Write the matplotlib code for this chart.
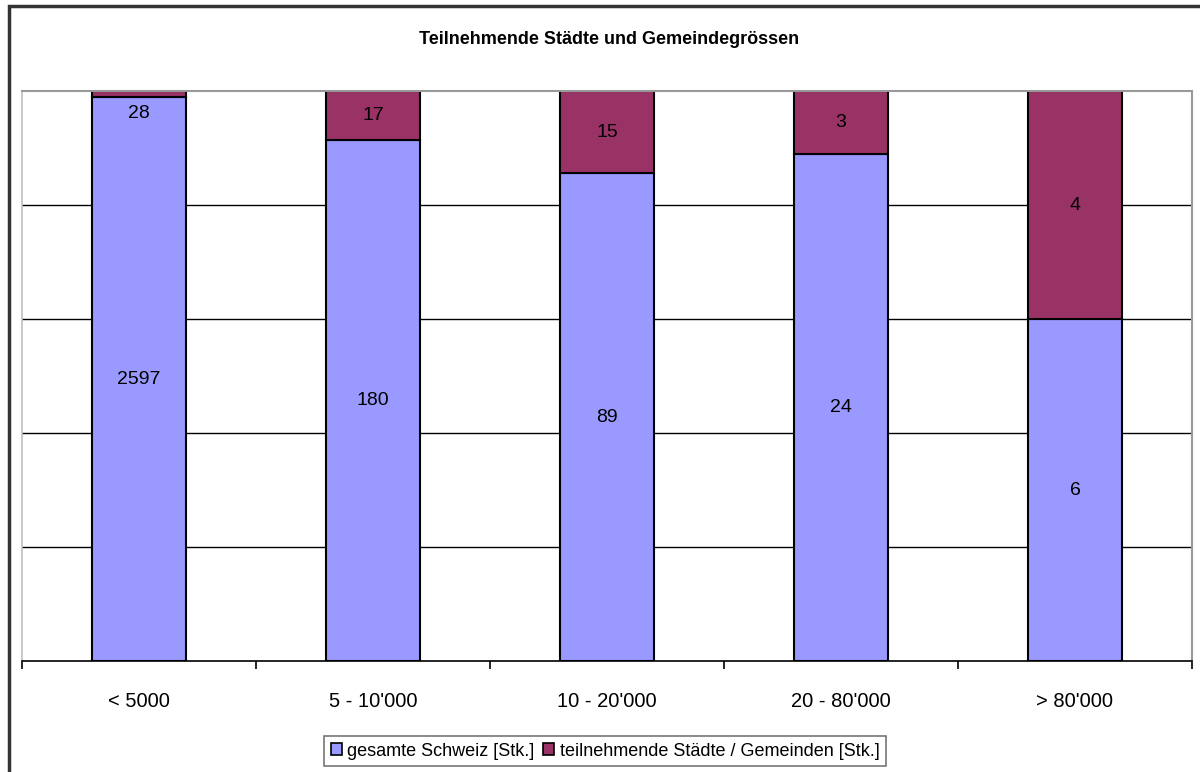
import matplotlib.pyplot as plt
import matplotlib.patches as mpatches
import numpy as np

# Gemeindegrössen und Anzahl Gemeinden
categories = ["< 5000", "5 - 10'000", "10 - 20'000", "20 - 80'000", "> 80'000"]
gesamt = [2597, 180, 89, 24, 6]
teilnehmend = [28, 17, 15, 3, 4]
legend_labels = ["gesamte Schweiz [Stk.]", "teilnehmende Städte / Gemeinden [Stk.]"]
title = "Teilnehmende Städte und Gemeindegrössen"

BLUE = "#9999ff"
RED = "#993366"
FONT = ["Liberation Sans", "DejaVu Sans"]

plt.rcParams['font.family'] = FONT

W, H = 1200, 772
fig = plt.figure(figsize=(W / 100, H / 100), dpi=100)
fig.patch.set_facecolor("white")

# Rahmen um das ganze Diagramm
frame = mpatches.Rectangle((8.5 / W, -0.1), 1.2, 1 - 5.5 / H + 0.1,
                           transform=fig.transFigure, fill=False,
                           edgecolor="#333333", linewidth=2.5)
fig.patches.append(frame)

ax = fig.add_axes([22 / W, 1 - 661 / H, 1170 / W, 570 / H])

# 100%-gestapelt
tot = np.array(gesamt) + np.array(teilnehmend)
p_ges = np.array(gesamt) / tot
p_teil = np.array(teilnehmend) / tot
x = np.arange(len(categories))

for yv in [0.2, 0.4, 0.6, 0.8]:
    ax.axhline(yv, color="black", linewidth=1.0, zorder=0)

ax.bar(x, p_ges, width=0.4, color=BLUE, edgecolor="black", linewidth=1.5, zorder=2)
ax.bar(x, p_teil, width=0.4, bottom=p_ges, color=RED, edgecolor="black",
       linewidth=1.5, zorder=2)

for i in range(len(categories)):
    ax.text(x[i], p_ges[i] / 2, str(gesamt[i]), ha="center", va="center",
            fontsize=14, zorder=3)
    yl = min(p_ges[i] + p_teil[i] / 2, 0.96)
    ax.text(x[i], yl, str(teilnehmend[i]), ha="center", va="center",
            fontsize=14, zorder=3)

ax.set_xlim(-0.5, len(categories) - 0.5)
ax.set_ylim(0, 1)
ax.set_yticks([])

ax.set_xticks(np.arange(-0.5, len(categories)), labels=[""] * (len(categories) + 1))
ax.tick_params(axis="x", which="major", direction="out", length=6, width=1.2,
               color="black")
ax.set_xticks(x, labels=categories, minor=True)
ax.tick_params(axis="x", which="minor", length=0, pad=22, labelsize=14.5)

ax.spines["bottom"].set_color("black")
ax.spines["bottom"].set_linewidth(1.2)
ax.spines["top"].set_color("#999999")
ax.spines["top"].set_linewidth(1.5)
ax.spines["left"].set_color("#c0c0c0")
ax.spines["left"].set_linewidth(1.2)
ax.spines["right"].set_color("#999999")
ax.spines["right"].set_linewidth(1.5)

fig.text(0.5075, 1 - 40 / H, title, ha="center", va="center",
         fontsize=13, fontweight="bold")

handles = [mpatches.Patch(facecolor=BLUE, edgecolor="black", linewidth=1.2),
           mpatches.Patch(facecolor=RED, edgecolor="black", linewidth=1.2)]
leg = fig.legend(handles, legend_labels, ncol=2, loc="center",
                 bbox_to_anchor=(605 / W, 1 - 751 / H), fontsize=13,
                 frameon=True, fancybox=False, handlelength=0.6, handleheight=0.6,
                 handletextpad=0.3, columnspacing=0.5, borderpad=0.35,
                 borderaxespad=0)
leg.get_frame().set_edgecolor("#555555")
leg.get_frame().set_linewidth(1.2)

fig.savefig("out.png", dpi=100, facecolor="white")
